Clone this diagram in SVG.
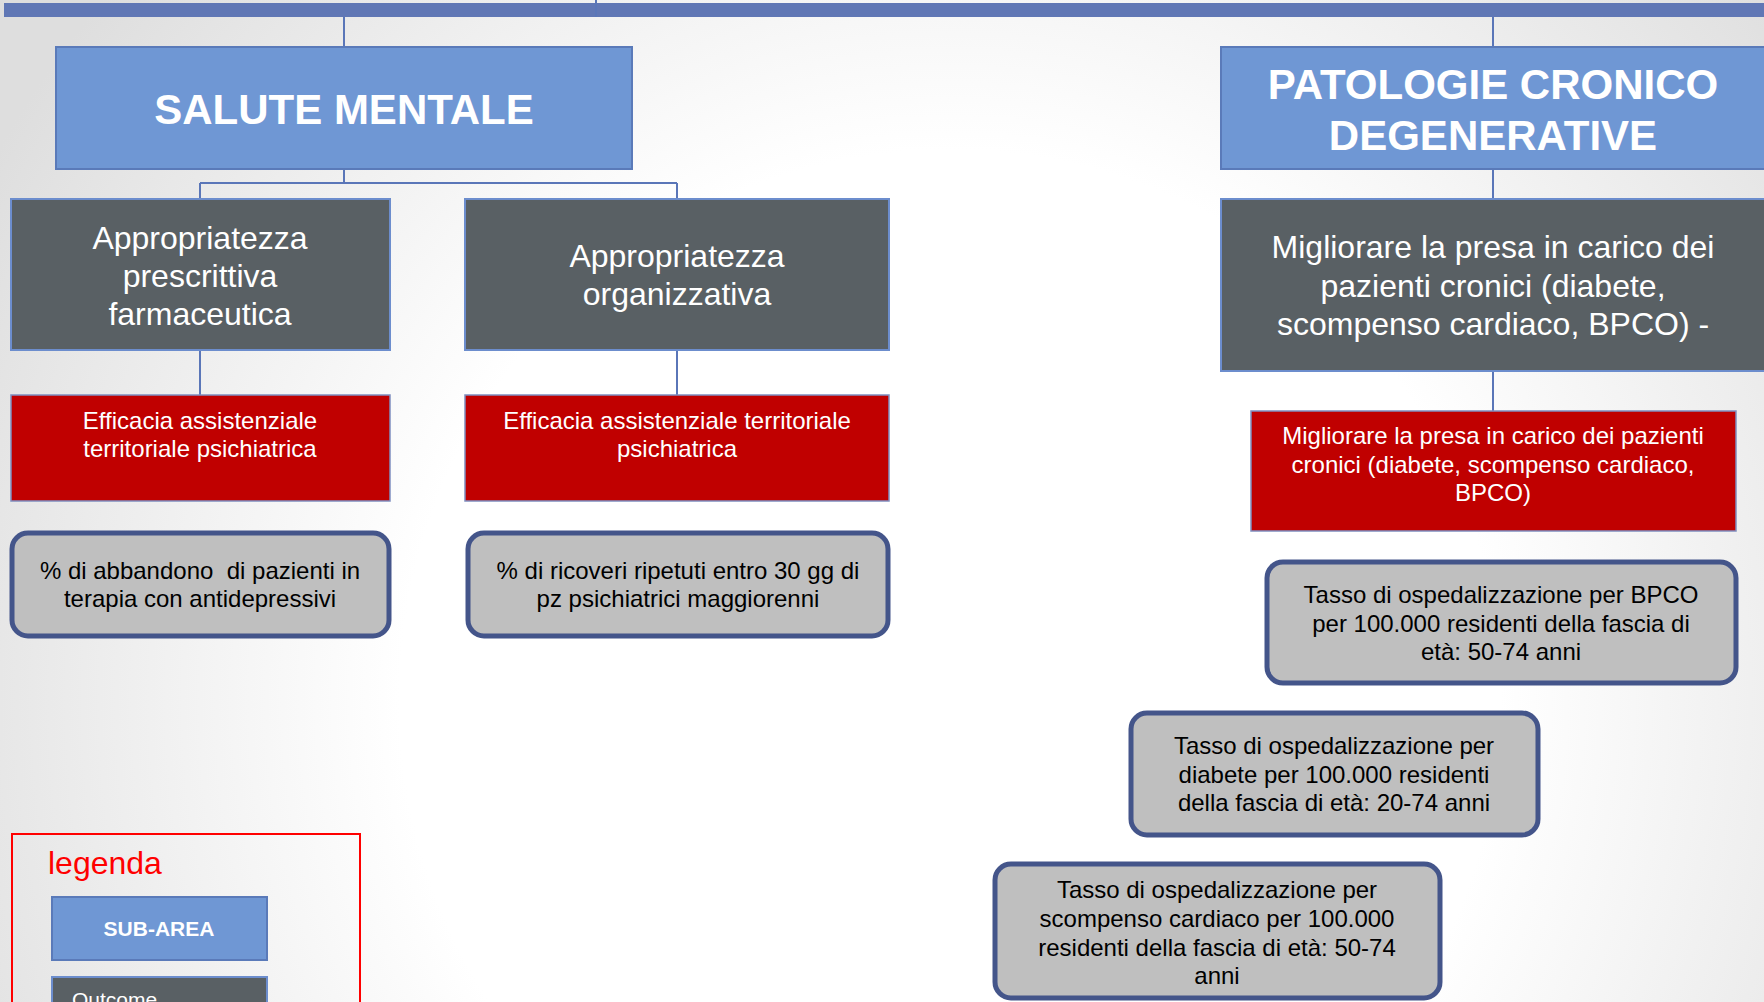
<svg xmlns="http://www.w3.org/2000/svg" width="1764" height="1002" viewBox="0 0 1764 1002">
<defs>
<radialGradient id="bg" gradientUnits="userSpaceOnUse" cx="950" cy="700" r="1100">
<stop offset="0" stop-color="#ffffff"/>
<stop offset="0.5" stop-color="#ffffff"/>
<stop offset="1" stop-color="#dedede"/>
</radialGradient>
</defs>
<style>
text{font-family:"Liberation Sans",Arial,sans-serif;text-anchor:middle}
.area{fill:#6F97D4;stroke:#5A7AB9;stroke-width:2}
.out{fill:#596064;stroke:#6C8DCD;stroke-width:2}
.red{fill:#C00000;stroke:#7F8FC0;stroke-width:1.5}
.ind{fill:#BFBFBF;stroke:#44558A;stroke-width:5}
.t-area{fill:#fff;font-weight:bold;font-size:42px}
.t-out{fill:#fff;font-size:32px}
.t-red{fill:#fff;font-size:24px}
.t-ind{fill:#000;font-size:24px}
.conn{stroke:#5A76B8;stroke-width:2;fill:none}
</style>
<rect width="1764" height="1002" fill="url(#bg)"/>
<rect x="4" y="3" width="1762" height="14" fill="#6077B5"/>
<g id="connectors">
<path class="conn" d="M596,0V17 M344,17V47 M1493,17V47 M344,169V183 M200,183H677 M200,183V199 M677,183V199 M200,350V395 M677,350V395 M1493,169V199 M1493,371V411"/>
</g>
<g id="salute-mentale">
<rect class="area" x="56" y="47" width="576" height="122"/>
<text class="t-area" x="344" y="124">SALUTE MENTALE</text>
</g>
<g id="patologie">
<rect class="area" x="1221" y="47" width="546" height="122"/>
<text class="t-area" x="1493" y="99">PATOLOGIE CRONICO</text>
<text class="t-area" x="1493" y="150">DEGENERATIVE</text>
</g>
<g id="out-farmaceutica">
<rect class="out" x="11" y="199" width="379" height="151"/>
<text class="t-out" x="200" y="249">Appropriatezza</text>
<text class="t-out" x="200" y="287">prescrittiva</text>
<text class="t-out" x="200" y="325">farmaceutica</text>
</g>
<g id="out-organizzativa">
<rect class="out" x="465" y="199" width="424" height="151"/>
<text class="t-out" x="677" y="267">Appropriatezza</text>
<text class="t-out" x="677" y="305">organizzativa</text>
</g>
<g id="out-cronici">
<rect class="out" x="1221" y="199" width="546" height="172"/>
<text class="t-out" x="1493" y="258">Migliorare la presa in carico dei</text>
<text class="t-out" x="1493" y="297">pazienti cronici (diabete,</text>
<text class="t-out" x="1493" y="335">scompenso cardiaco, BPCO) -</text>
</g>
<g id="red-1">
<rect class="red" x="11" y="395" width="379" height="106"/>
<text class="t-red" x="200" y="429">Efficacia assistenziale</text>
<text class="t-red" x="200" y="457">territoriale psichiatrica</text>
</g>
<g id="red-2">
<rect class="red" x="465" y="395" width="424" height="106"/>
<text class="t-red" x="677" y="429">Efficacia assistenziale territoriale</text>
<text class="t-red" x="677" y="457">psichiatrica</text>
</g>
<g id="red-3">
<rect class="red" x="1251" y="411" width="485" height="120"/>
<text class="t-red" x="1493" y="444">Migliorare la presa in carico dei pazienti</text>
<text class="t-red" x="1493" y="473">cronici (diabete, scompenso cardiaco,</text>
<text class="t-red" x="1493" y="501">BPCO)</text>
</g>
<g id="ind-abbandono">
<rect class="ind" x="12" y="533" width="377" height="103" rx="16"/>
<text class="t-ind" x="200" y="579" style="white-space:pre">% di abbandono  di pazienti in</text>
<text class="t-ind" x="200" y="607">terapia con antidepressivi</text>
</g>
<g id="ind-ricoveri">
<rect class="ind" x="468" y="533" width="420" height="103" rx="16"/>
<text class="t-ind" x="678" y="579">% di ricoveri ripetuti entro 30 gg di</text>
<text class="t-ind" x="678" y="607">pz psichiatrici maggiorenni</text>
</g>
<g id="ind-bpco">
<rect class="ind" x="1267" y="562" width="469" height="121" rx="16"/>
<text class="t-ind" x="1501" y="603">Tasso di ospedalizzazione per BPCO</text>
<text class="t-ind" x="1501" y="632">per 100.000 residenti della fascia di</text>
<text class="t-ind" x="1501" y="660">età: 50-74 anni</text>
</g>
<g id="ind-diabete">
<rect class="ind" x="1131" y="713" width="407" height="122" rx="16"/>
<text class="t-ind" x="1334" y="754">Tasso di ospedalizzazione per</text>
<text class="t-ind" x="1334" y="783">diabete per 100.000 residenti</text>
<text class="t-ind" x="1334" y="811">della fascia di età: 20-74 anni</text>
</g>
<g id="ind-scompenso">
<rect class="ind" x="995" y="864" width="445" height="134" rx="16"/>
<text class="t-ind" x="1217" y="898">Tasso di ospedalizzazione per</text>
<text class="t-ind" x="1217" y="927">scompenso cardiaco per 100.000</text>
<text class="t-ind" x="1217" y="956">residenti della fascia di età: 50-74</text>
<text class="t-ind" x="1217" y="984">anni</text>
</g>
<g id="legenda">
<rect x="12" y="834" width="348" height="200" fill="none" stroke="#FF0000" stroke-width="2"/>
<text x="48" y="874" style="text-anchor:start;fill:#FF0000;font-size:32px">legenda</text>
<rect class="area" x="52" y="897" width="215" height="63"/>
<text x="159" y="936" style="fill:#fff;font-weight:bold;font-size:21px">SUB-AREA</text>
<rect class="out" x="52" y="977" width="215" height="60"/>
<text x="72" y="1007" style="text-anchor:start;fill:#fff;font-size:21px">Outcome</text>
</g>
</svg>
